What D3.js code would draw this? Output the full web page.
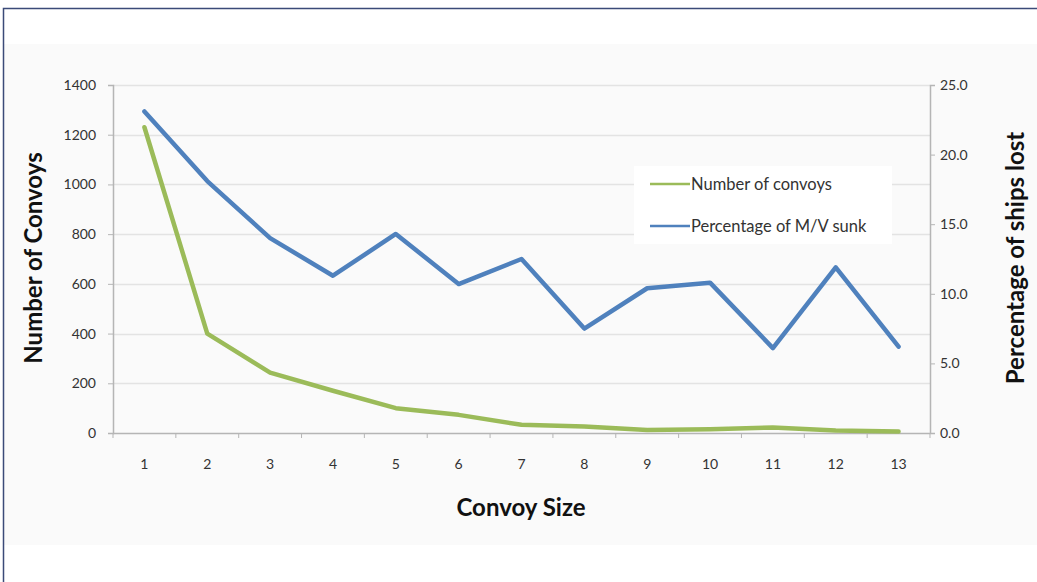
<!DOCTYPE html>
<html>
<head>
<meta charset="utf-8">
<script src="https://cdn.jsdelivr.net/npm/d3@7"></script>
<style>
  html, body { margin: 0; padding: 0; background: #ffffff; }
  svg { display: block; font-family: Lato, "Open Sans", "DejaVu Sans", sans-serif; }
</style>
</head>
<body>
<svg id="chart" width="1037" height="582"></svg>
<script>
// Convoy size categories (x axis)
const convoySizes = ["1","2","3","4","5","6","7","8","9","10","11","12","13"];
// Number of convoys for each convoy size (left axis)
const numberOfConvoys = [1230, 400, 243, 170, 100, 73, 33, 26, 12, 15, 22, 10, 6];
// Percentage of merchant vessels sunk (right axis)
const percentSunk = [23.1, 18.1, 14.0, 11.3, 14.3, 10.7, 12.5, 7.5, 10.4, 10.8, 6.1, 11.9, 6.2];
// Axis ticks
const leftTicks = [0, 200, 400, 600, 800, 1000, 1200, 1400];
const rightTicks = [0, 5, 10, 15, 20, 25];
const seriesNames = ["Number of convoys", "Percentage of M/V sunk"];
const seriesColors = ["#9bbb59", "#4f81bd"];

const svg = d3.select("#chart");
const W = 1037, H = 582;

// page frame and chart background
svg.append("rect").attr("x", 4).attr("y", 44).attr("width", W - 4).attr("height", 501)
  .attr("fill", "#fafafa");
svg.append("path").attr("d", `M3.5,${H} L3.5,8.5 L${W},8.5`)
  .attr("fill", "none").attr("stroke", "#3b4a78").attr("stroke-width", 1.5);

const plot = { left: 113, right: 930, top: 85, bottom: 433 };

const x = d3.scaleBand().domain(convoySizes).range([plot.left, plot.right]);
const yL = d3.scaleLinear().domain([0, 1400]).range([plot.bottom, plot.top]);
const yR = d3.scaleLinear().domain([0, 25]).range([plot.bottom, plot.top]);

// horizontal gridlines
svg.append("g").selectAll("line").data(leftTicks.filter(d => d > 0)).join("line")
  .attr("x1", plot.left).attr("x2", plot.right)
  .attr("y1", d => Math.round(yL(d)) + 0.5).attr("y2", d => Math.round(yL(d)) + 0.5)
  .attr("stroke", "#e3e3e3").attr("stroke-width", 1.5);

// left axis
const gL = svg.append("g").attr("transform", `translate(${plot.left},0)`)
  .call(d3.axisLeft(yL).tickValues(leftTicks).tickSize(5).tickPadding(12).tickFormat(d3.format("d")));
// right axis
const gR = svg.append("g").attr("transform", `translate(${plot.right},0)`)
  .call(d3.axisRight(yR).tickValues(rightTicks).tickSize(5).tickPadding(5).tickFormat(d3.format(".1f")));
// bottom axis: ticks at category boundaries
const gB = svg.append("g").attr("transform", `translate(0,${plot.bottom})`)
  .call(d3.axisBottom(x).tickSize(0).tickPadding(26));
gB.selectAll(".boundary").data(d3.range(convoySizes.length + 1)).join("line")
  .attr("class", "boundary")
  .attr("x1", i => plot.left + i * x.step()).attr("x2", i => plot.left + i * x.step())
  .attr("y1", 0).attr("y2", 5).attr("stroke", "#b5b5b5");

[gL, gR, gB].forEach(g => {
  g.selectAll(".domain").attr("stroke", "#b5b5b5").attr("stroke-width", 1.5);
  g.selectAll(".tick line").attr("stroke", "#b5b5b5");
  g.selectAll("text").attr("font-size", 14).attr("fill", "#333").attr("font-family", "Lato, sans-serif");
});
gB.select(".domain").attr("d", `M${plot.left},0.5H${plot.right}`);

// series lines
const cx = d => x(d) + x.bandwidth() / 2;
const lineL = d3.line().x((d, i) => cx(convoySizes[i])).y(d => yL(d));
const lineR = d3.line().x((d, i) => cx(convoySizes[i])).y(d => yR(d));

svg.append("path").datum(numberOfConvoys).attr("d", lineL)
  .attr("fill", "none").attr("stroke", seriesColors[0]).attr("stroke-width", 4.5)
  .attr("stroke-linejoin", "round").attr("stroke-linecap", "round");
svg.append("path").datum(percentSunk).attr("d", lineR)
  .attr("fill", "none").attr("stroke", seriesColors[1]).attr("stroke-width", 4.5)
  .attr("stroke-linejoin", "round").attr("stroke-linecap", "round");

// legend
const legend = svg.append("g");
legend.append("rect").attr("x", 634).attr("y", 166).attr("width", 258).attr("height", 78)
  .attr("fill", "#ffffff");
seriesNames.forEach((name, i) => {
  const ly = 184 + i * 42;
  legend.append("line").attr("x1", 650).attr("x2", 690).attr("y1", ly).attr("y2", ly)
    .attr("stroke", seriesColors[i]).attr("stroke-width", 2.5);
  legend.append("text").attr("x", 691).attr("y", ly).attr("dy", "0.35em")
    .attr("font-size", 16.5).attr("fill", "#333").text(name);
});

// axis titles
svg.append("text").attr("transform", `translate(42,258) rotate(-90)`)
  .attr("text-anchor", "middle").attr("font-size", 24).attr("font-weight", "bold")
  .attr("fill", "#111").text("Number of Convoys");
svg.append("text").attr("transform", `translate(1024,258) rotate(-90)`)
  .attr("text-anchor", "middle").attr("font-size", 24).attr("font-weight", "bold")
  .attr("fill", "#111").text("Percentage of ships lost");
svg.append("text").attr("x", 521).attr("y", 516)
  .attr("text-anchor", "middle").attr("font-size", 24).attr("font-weight", "bold")
  .attr("fill", "#111").text("Convoy Size");
</script>
</body>
</html>
